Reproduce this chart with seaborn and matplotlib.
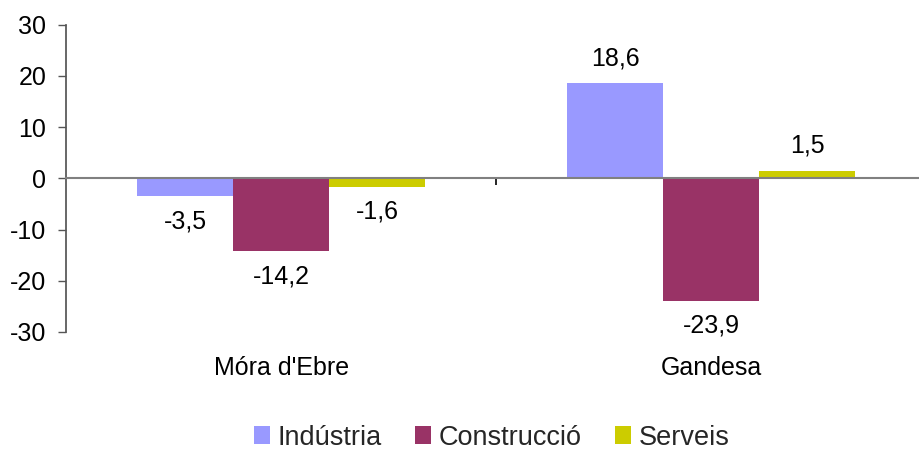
import numpy as np
import pandas as pd
import matplotlib
matplotlib.use("Agg")
import matplotlib.pyplot as plt
import seaborn as sns

municipis = ["Móra d'Ebre", "Gandesa"]
sectors = ["Indústria", "Construcció", "Serveis"]
industria = [-3.5, 18.6]
construccio = [-14.2, -23.9]
serveis = [-1.6, 1.5]
colors = ["#9999FF", "#993366", "#CCCC00"]
y_ticks = [-30, -20, -10, 0, 10, 20, 30]

df = pd.DataFrame({
    "municipi": municipis * 3,
    "sector": [s for s in sectors for _ in municipis],
    "valor": industria + construccio + serveis,
})

sns.set_theme(style="white")
plt.rcParams["font.family"] = ["Liberation Sans", "DejaVu Sans"]
plt.rcParams["axes.unicode_minus"] = False

fig = plt.figure(figsize=(9.19, 4.51), dpi=100)
ax = fig.add_axes([0.072, 0.264, 0.936, 0.681])

sns.barplot(
    data=df, x="municipi", y="valor", hue="sector",
    order=municipis, hue_order=sectors,
    palette=colors, width=0.67, saturation=1,
    edgecolor="none", ax=ax, legend=True,
)

for container in ax.containers:
    for bar in container:
        v = bar.get_height()
        x = bar.get_x() + bar.get_width() / 2
        off = 18 if v >= 0 else -18
        ax.annotate(f"{v:.1f}".replace(".", ","), (x, v),
                    xytext=(0, off), textcoords="offset points",
                    ha="center", va="center", fontsize=18, color="black")

ax.set_ylim(-30, 30)
ax.set_xlim(-0.5, 1.5)
ax.set_yticks(y_ticks)
ax.set_xlabel("")
ax.set_ylabel("")

ax.spines["top"].set_visible(False)
ax.spines["right"].set_visible(False)
ax.spines["left"].set_color("#555555")
ax.spines["bottom"].set_position(("data", 0))
ax.spines["bottom"].set_color("#808080")
ax.spines["bottom"].set_linewidth(1.5)

ax.tick_params(axis="y", left=True, length=5.8, width=1, color="#555555",
               labelsize=18, pad=8.5, labelcolor="black")
ax.set_xticks([0.5], minor=True)
ax.tick_params(axis="x", which="minor", bottom=True, length=5, width=1.2,
               color="black", direction="out")
ax.tick_params(axis="x", which="major", bottom=False, length=0,
               labelsize=18, pad=128, labelcolor="black")

handles, labels = ax.get_legend_handles_labels()
ax.get_legend().remove()
fig.legend(handles, labels, loc="lower center", ncol=3, frameon=False,
           fontsize=19.5, handlelength=0.6, handleheight=0.6,
           handletextpad=0.3, columnspacing=1.2,
           bbox_to_anchor=(0.535, -0.053))

fig.savefig("out.png", dpi=100)
